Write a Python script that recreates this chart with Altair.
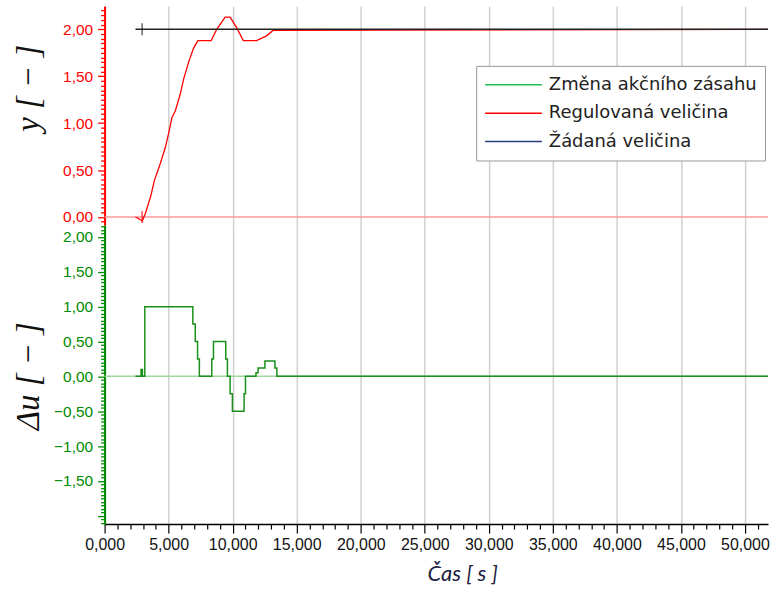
import altair as alt
import pandas as pd

# ---------------- data ----------------
# Regulovaná veličina (controlled variable)
t_y = [2.41, 2.95, 3.19, 3.60, 3.89, 4.35, 4.74, 5.00, 5.26, 5.52, 5.91, 6.17, 6.56,
       6.95, 7.28, 8.32, 8.76, 9.41, 9.80, 10.30, 10.83, 11.86, 12.65, 13.17, 51.8]
v_y = [0.00, -0.04, 0.04, 0.22, 0.39, 0.57, 0.74, 0.89, 1.06, 1.13, 1.31, 1.47, 1.65,
       1.80, 1.88, 1.88, 2.00, 2.13, 2.13, 2.02, 1.88, 1.88, 1.93, 1.99, 2.00]

# Žádaná veličina (setpoint)
t_w = [2.41, 51.8]
v_w = [2.00, 2.00]

# start marker
t_mark = [2.93]
v_mark_w = [2.00]
v_mark_y = [0.00]

# Změna akčního zásahu (step signal)
t_u = [2.41, 2.85, 2.95, 3.14, 6.89, 7.08, 7.26, 7.40, 8.37, 8.50, 9.46, 9.59, 9.80,
       9.98, 10.89, 11.00, 11.82, 11.98, 12.52, 13.30, 13.45, 51.8]
v_u = [0.00, 0.10, 0.00, 1.00, 0.75, 0.50, 0.25, 0.00, 0.25, 0.50, 0.25, 0.00, -0.25,
       -0.50, -0.25, 0.00, 0.05, 0.12, 0.22, 0.12, 0.00, 0.00]

zero_level = [0.0]

series = ["Změna akčního zásahu", "Regulovaná veličina", "Žádaná veličina"]
legend_colors = ["#22bb55", "#ff0000", "#2a3f7f"]

x_max = 51.8
x_ticks = list(range(0, 52))
top_ticks = [round(-0.05 + 0.05 * i, 2) for i in range(0, 46)]
bot_ticks = [round(-2.10 + 0.05 * i, 2) for i in range(0, 86)]

df_y = pd.DataFrame({"t": t_y, "v": v_y})
df_w = pd.DataFrame({"t": t_w, "v": v_w})
df_mw = pd.DataFrame({"t": t_mark, "v": v_mark_w})
df_my = pd.DataFrame({"t": t_mark, "v": v_mark_y})
df_u = pd.DataFrame({"t": t_u, "v": v_u})
df_zero = pd.DataFrame({"v": zero_level})
df_leg = pd.DataFrame({"t": [0.0] * 3, "v": [0.0] * 3, "serie": series})

# ---------------- axes / scales ----------------
major_x = "datum.value % 5 == 0"
x_scale = alt.Scale(domain=[0, x_max], nice=False, zero=False)

x_axis_top = alt.Axis(values=x_ticks, labels=False, ticks=False, domain=False,
                      grid=True, gridColor="#d0d0d0", gridWidth=1.5,
                      gridOpacity={"condition": {"test": major_x, "value": 1}, "value": 0},
                      title=None)
x_axis_bot = alt.Axis(values=x_ticks, grid=True, gridColor="#d0d0d0", gridWidth=1.5,
                      gridOpacity={"condition": {"test": major_x, "value": 1}, "value": 0},
                      domain=True, domainColor="#000000", domainWidth=1.5,
                      tickColor="#000000", tickWidth=1.2,
                      tickSize={"condition": {"test": major_x, "value": 9}, "value": 5},
                      labelExpr="datum.value % 5 == 0 ? replace(format(datum.value, '.3f'), '.', ',') : ''",
                      labelFontSize={"condition": {"test": major_x, "value": 16}, "value": 0.1},
                      labelFont="Liberation Sans", labelColor="#111111",
                      labelPadding=3, labelFlush=False, labelOverlap=False,
                      title="Čas [ s ]", titleFont="Lato", titleFontStyle="italic",
                      titleFontWeight="normal", titleFontSize=22, titleColor="#202040",
                      titleX=359, titleY=57, titleBaseline="alphabetic", titleAlign="center",
                      titleAnchor="start")

major_y = "abs(datum.value * 2 - round(datum.value * 2)) < 0.001"


def y_axis(color, lo, title, title_y):
    lab = f"({major_y}) && datum.value > {lo}"
    return alt.Axis(values=top_ticks if lo > -1 else bot_ticks,
                    grid=False, domain=True, domainColor=color, domainWidth=2,
                    tickColor=color, tickWidth=1.3,
                    tickSize={"condition": {"test": major_y, "value": 7}, "value": 4},
                    labelExpr=f"{lab} ? replace(format(datum.value, '.2f'), '.', ',') : ''",
                    labelFontSize={"condition": {"test": lab, "value": 15.5}, "value": 0.1},
                    labelFont="Liberation Sans", labelColor=color,
                    labelPadding=5, labelFlush=False, labelOverlap=False,
                    title=title, titleFont="Liberation Serif", titleFontStyle="italic",
                    titleFontWeight="normal", titleFontSize=33, titleColor="#111111",
                    titleAngle=270, titleX=-66, titleY=title_y, titleAlign="center",
                    titleBaseline="alphabetic", titleAnchor="start")


top_scale = alt.Scale(domain=[-0.088, 2.247], nice=False, zero=False)
bot_scale = alt.Scale(domain=[-2.119, 2.167], nice=False, zero=False)
top_axis = y_axis("#ff0000", -0.01, "y [ − ]", 82)
bot_axis = y_axis("#008a00", -1.9, "Δu [ − ]", 151)


def XT():
    return alt.X("t:Q", scale=x_scale, axis=x_axis_top)


def XB():
    return alt.X("t:Q", scale=x_scale, axis=x_axis_bot)


def YT():
    return alt.Y("v:Q", scale=top_scale, axis=top_axis)


def YB():
    return alt.Y("v:Q", scale=bot_scale, axis=bot_axis)


# ---------------- top panel ----------------
top_zero = alt.Chart(df_zero).mark_rule(color="#ff9a9a", strokeWidth=1.5).encode(y=YT())
red_line = alt.Chart(df_y).mark_line(color="#ff0000", strokeWidth=1.3, clip=True).encode(x=XT(), y=YT())
black_line = alt.Chart(df_w).mark_line(color="#222222", strokeWidth=1.6, clip=True).encode(x=XT(), y=YT())
mark_w = alt.Chart(df_mw).mark_tick(orient="vertical", color="#222222", size=12, thickness=1.5).encode(x=XT(), y=YT())
mark_y = alt.Chart(df_my).mark_tick(orient="vertical", color="#ff0000", size=12, thickness=1.5).encode(x=XT(), y=YT())
legend_layer = alt.Chart(df_leg).transform_filter("false").mark_line().encode(
    x=XT(), y=YT(),
    color=alt.Color("serie:N", scale=alt.Scale(domain=series, range=legend_colors),
                    legend=alt.Legend(title=None, orient="none", legendX=373, legendY=60,
                                      direction="vertical", symbolType="stroke",
                                      symbolSize=3249, symbolStrokeWidth=1.5,
                                      labelFont="DejaVu Sans", labelFontSize=18,
                                      labelColor="#222222", labelOffset=6, padding=8,
                                      rowPadding=6.5, clipHeight=22, strokeColor="#999999",
                                      fillColor="#ffffff", labelLimit=400)))

top = alt.layer(top_zero, red_line, black_line, mark_w, mark_y, legend_layer).properties(
    width=666, height=220)

# ---------------- bottom panel ----------------
bot_zero = alt.Chart(df_zero).mark_rule(color="#a0d8a0", strokeWidth=1.5).encode(y=YB())
green_line = alt.Chart(df_u).mark_line(color="#1a8f1a", strokeWidth=1.5, interpolate="step-after",
                                       clip=True).encode(x=XB(), y=YB())
bottom = alt.layer(bot_zero, green_line).properties(width=666, height=300)

chart = alt.vconcat(top, bottom, spacing=0, bounds="flush").properties(
    padding={"left": 13, "top": 5, "right": 0, "bottom": 0},
    background="#ffffff",
).configure_view(strokeWidth=0)

chart.save("out.html", embed_options={"renderer": "svg", "actions": False})
